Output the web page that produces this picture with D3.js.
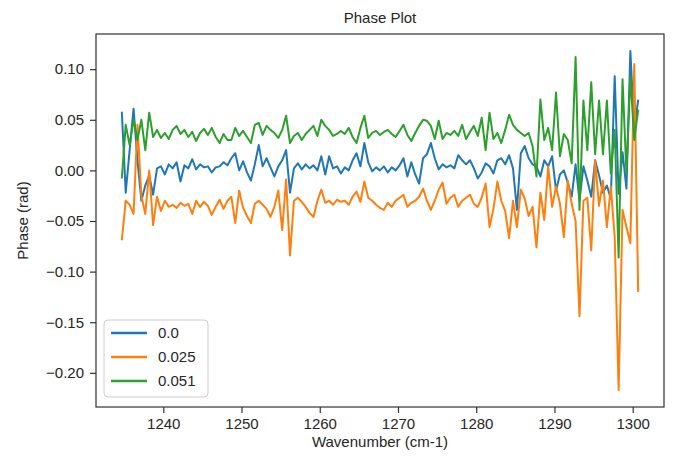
<!DOCTYPE html>
<html>
<head>
<meta charset="utf-8">
<script src="https://cdn.jsdelivr.net/npm/d3@7"></script>
<style>
	body { margin: 0; background: #fff; }
	text { font-family: 'Liberation Sans', Arial, sans-serif; fill: #262626; }
</style>
</head>
<body>
<div id="chart"></div>
<script>
// wavenumber grid (cm-1)
var wavenumbers = [
	1234.7, 1235.2, 1235.7, 1236.2, 1236.7, 1237.2, 1237.7, 1238.2, 1238.7, 1239.2,
	1239.7, 1240.2, 1240.7, 1241.2, 1241.7, 1242.2, 1242.7, 1243.2, 1243.7, 1244.2,
	1244.7, 1245.2, 1245.7, 1246.2, 1246.7, 1247.2, 1247.7, 1248.2, 1248.7, 1249.2,
	1249.7, 1250.2, 1250.7, 1251.2, 1251.7, 1252.2, 1252.7, 1253.2, 1253.7, 1254.2,
	1254.7, 1255.2, 1255.7, 1256.2, 1256.7, 1257.2, 1257.7, 1258.2, 1258.7, 1259.2,
	1259.7, 1260.2, 1260.7, 1261.2, 1261.7, 1262.2, 1262.7, 1263.2, 1263.7, 1264.2,
	1264.7, 1265.2, 1265.7, 1266.2, 1266.7, 1267.2, 1267.7, 1268.2, 1268.7, 1269.2,
	1269.7, 1270.2, 1270.7, 1271.2, 1271.7, 1272.2, 1272.7, 1273.2, 1273.7, 1274.2,
	1274.7, 1275.2, 1275.7, 1276.2, 1276.7, 1277.2, 1277.7, 1278.2, 1278.7, 1279.2,
	1279.7, 1280.2, 1280.7, 1281.2, 1281.7, 1282.2, 1282.7, 1283.2, 1283.7, 1284.2,
	1284.7, 1285.2, 1285.7, 1286.2, 1286.7, 1287.2, 1287.7, 1288.2, 1288.7, 1289.2,
	1289.7, 1290.2, 1290.7, 1291.2, 1291.7, 1292.2, 1292.7, 1293.2, 1293.7, 1294.2,
	1294.7, 1295.2, 1295.7, 1296.2, 1296.7, 1297.2, 1297.7, 1298.2, 1298.7, 1299.2,
	1299.7, 1300.2, 1300.7
];

// phase (rad), one array per series
var phase0 = [
	0.058, -0.022, 0.02, 0.061, 0.01, -0.03, -0.015, -0.005, -0.024, 0.002,
	0.004, -0.004, 0.006, 0.002, 0.008, -0.011, 0.005, 0.002, 0.011, 0.001,
	0.006, 0.003, 0.004, -0.002, 0.003, 0.004, 0.008, 0.005, 0.012, 0.017,
	0.0, 0.009, -0.002, -0.01, 0.006, 0.025, 0.004, 0.012, 0.003, -0.006,
	0.004, 0.01, 0.02, -0.022, 0.002, 0.007, 0.001, 0.006, 0.002, 0.005,
	0.0, 0.014, -0.004, 0.014, 0.002, 0.004, -0.003, 0.003, 0.0, 0.01,
	0.017, 0.004, 0.027, 0.008, -0.001, 0.003, 0.0, 0.004, -0.002, 0.003,
	0.0, 0.005, 0.012, -0.006, 0.008, -0.004, -0.013, 0.012, 0.016, 0.027,
	0.012, 0.001, 0.006, 0.003, 0.005, 0.002, 0.015, 0.01, 0.006, 0.01,
	0.002, -0.008, -0.002, 0.007, 0.004, -0.003, 0.01, 0.012, 0.006, 0.015,
	0.002, -0.039, 0.017, 0.024, 0.012, 0.006, 0.004, -0.006, 0.01, 0.004,
	0.014, -0.02, -0.004, 0.0, -0.012, -0.026, 0.006, -0.03, 0.004, -0.01,
	-0.026, 0.01, -0.005, -0.022, -0.015, -0.028, 0.093, -0.023, 0.018, -0.018,
	0.118, 0.04, 0.07
];
var phase025 = [
	-0.069, -0.03, -0.034, -0.043, 0.045, -0.025, -0.043, 0.0, -0.054, -0.026,
	-0.04, -0.03, -0.036, -0.034, -0.037, -0.032, -0.035, -0.033, -0.043, -0.03,
	-0.036, -0.031, -0.035, -0.044, -0.036, -0.029, -0.038, -0.03, -0.026, -0.052,
	-0.02, -0.037, -0.045, -0.052, -0.033, -0.03, -0.034, -0.038, -0.046, -0.036,
	-0.02, -0.059, -0.009, -0.084, -0.03, -0.027, -0.031, -0.036, -0.042, -0.046,
	-0.03, -0.019, -0.032, -0.03, -0.034, -0.029, -0.031, -0.03, -0.034, -0.026,
	-0.021, -0.031, -0.011, -0.027, -0.03, -0.034, -0.037, -0.039, -0.032, -0.036,
	-0.03, -0.027, -0.024, -0.036, -0.032, -0.03, -0.026, -0.018, -0.03, -0.039,
	-0.03, -0.019, -0.012, -0.033, -0.027, -0.024, -0.036, -0.03, -0.027, -0.024,
	-0.033, -0.036, -0.027, -0.013, -0.056, -0.038, -0.011, -0.03, -0.04, -0.067,
	-0.03, -0.056, -0.019, -0.028, -0.045, -0.036, -0.076, -0.022, -0.049, 0.004,
	-0.036, -0.016, -0.033, -0.066, -0.01, -0.033, -0.05, -0.144, -0.03, -0.027,
	-0.079, 0.01, -0.035, -0.01, -0.056, -0.016, -0.066, -0.217, -0.039, -0.056,
	-0.072, 0.105, -0.12
];
var phase051 = [
	-0.008, 0.045, 0.025, 0.05, 0.03, 0.05, 0.02, 0.057, 0.033, 0.04,
	0.032, 0.037, 0.031, 0.04, 0.044, 0.036, 0.04, 0.033, 0.038, 0.029,
	0.037, 0.041, 0.035, 0.042, 0.033, 0.027, 0.036, 0.03, 0.03, 0.042,
	0.034, 0.039, 0.033, 0.027, 0.045, 0.047, 0.035, 0.044, 0.04, 0.037,
	0.032, 0.04, 0.054, 0.027, 0.034, 0.037, 0.03, 0.036, 0.04, 0.044,
	0.034, 0.05, 0.044, 0.04, 0.034, 0.036, 0.039, 0.036, 0.042, 0.033,
	0.027, 0.042, 0.054, 0.032, 0.037, 0.039, 0.035, 0.038, 0.04, 0.036,
	0.033, 0.039, 0.045, 0.035, 0.029, 0.037, 0.044, 0.05, 0.049, 0.044,
	0.031, 0.049, 0.031, 0.037, 0.035, 0.039, 0.034, 0.045, 0.031, 0.038,
	0.044, 0.034, 0.052, 0.02, 0.057, 0.031, 0.037, 0.027, 0.04, 0.055,
	0.045, 0.04, 0.037, 0.034, 0.037, 0.024, -0.006, 0.07, 0.03, 0.042,
	0.02, 0.077, 0.014, 0.036, 0.03, 0.007, 0.112, -0.039, 0.069, 0.02,
	0.087, 0.016, 0.069, 0.016, 0.069, -0.003, 0.04, -0.086, 0.09, -0.003,
	0.093, 0.03, 0.06
];

var seriesNames = ['0.0', '0.025', '0.051'];
var seriesColors = ['#1f77b4', '#ff7f0e', '#2ca02c'];
var xTicks = [1240, 1250, 1260, 1270, 1280, 1290, 1300];
var yTicks = [-0.20, -0.15, -0.10, -0.05, 0.00, 0.05, 0.10];

(function () {
	var width = 673;
	var height = 457;
	var margin = {top: 34, right: 9, bottom: 50, left: 96};
	var fontSize = 15;
	var axisColor = '#333';

	var series = [phase0, phase025, phase051].map(function (vals, i) {
		return {
			name: seriesNames[i],
			color: seriesColors[i],
			values: vals.map(function (v, j) { return {x: wavenumbers[j], y: v}; })
		};
	});

	// matplotlib-like 5% padding
	var xExt = d3.extent(wavenumbers);
	var yExt = d3.extent([].concat(phase0, phase025, phase051));
	var xPad = (xExt[1] - xExt[0]) * 0.05;
	var yPad = (yExt[1] - yExt[0]) * 0.05;

	var x = d3.scaleLinear()
		.domain([xExt[0] - xPad, xExt[1] + xPad])
		.range([margin.left, width - margin.right]);
	var y = d3.scaleLinear()
		.domain([yExt[0] - yPad, yExt[1] + yPad])
		.range([height - margin.bottom, margin.top]);

	var svg = d3.select('#chart').append('svg')
		.attr('width', width).attr('height', height)
		.style('background', '#fff');

	var line = d3.line()
		.x(function (d) { return x(d.x); })
		.y(function (d) { return y(d.y); });

	svg.append('g').selectAll('path')
		.data(series).enter().append('path')
		.attr('d', function (d) { return line(d.values); })
		.attr('fill', 'none')
		.attr('stroke', function (d) { return d.color; })
		.attr('stroke-width', 2)
		.attr('stroke-linejoin', 'round');

	// axes
	var xAxis = svg.append('g')
		.attr('transform', 'translate(0,' + (height - margin.bottom) + ')')
		.call(d3.axisBottom(x).tickValues(xTicks).tickFormat(d3.format('d')).tickSize(6).tickPadding(5));
	var yAxis = svg.append('g')
		.attr('transform', 'translate(' + margin.left + ',0)')
		.call(d3.axisLeft(y).tickValues(yTicks).tickFormat(function (d) {
			return d3.format('.2f')(d).replace('-', '\u2212');
		}).tickSize(6).tickPadding(6));

	[xAxis, yAxis].forEach(function (g) {
		g.select('.domain').remove();
		g.selectAll('.tick line').attr('stroke', axisColor).attr('stroke-width', 1.2);
		g.selectAll('.tick text').attr('font-size', fontSize).attr('fill', '#262626')
			.style('font-family', "'Liberation Sans', Arial, sans-serif");
	});

	// frame
	svg.append('rect')
		.attr('x', margin.left).attr('y', margin.top)
		.attr('width', width - margin.left - margin.right)
		.attr('height', height - margin.top - margin.bottom)
		.attr('fill', 'none')
		.attr('stroke', axisColor)
		.attr('stroke-width', 1.2);

	// labels
	svg.append('text')
		.attr('x', (margin.left + width - margin.right) / 2).attr('y', 23)
		.attr('text-anchor', 'middle')
		.attr('font-size', fontSize)
		.text('Phase Plot');
	svg.append('text')
		.attr('x', (margin.left + width - margin.right) / 2).attr('y', 447)
		.attr('text-anchor', 'middle')
		.attr('font-size', fontSize)
		.text('Wavenumber (cm-1)');
	svg.append('text')
		.attr('transform', 'translate(28,' + ((margin.top + height - margin.bottom) / 2) + ')rotate(-90)')
		.attr('text-anchor', 'middle')
		.attr('font-size', fontSize)
		.text('Phase (rad)');

	// legend
	var legend = svg.append('g').attr('transform', 'translate(104,320)');
	legend.append('rect')
		.attr('width', 104).attr('height', 77).attr('rx', 4)
		.attr('fill', '#fff').attr('fill-opacity', 0.8)
		.attr('stroke', '#ccc');
	var items = legend.selectAll('.item')
		.data(series).enter().append('g')
		.attr('transform', function (d, i) { return 'translate(0,' + (13 + i * 24) + ')'; });
	items.append('line')
		.attr('x1', 7).attr('x2', 43)
		.attr('stroke', function (d) { return d.color; })
		.attr('stroke-width', 2.5);
	items.append('text')
		.attr('x', 54).attr('dy', '0.35em')
		.attr('font-size', fontSize)
		.text(function (d) { return d.name; });
})();
</script>
</body>
</html>
